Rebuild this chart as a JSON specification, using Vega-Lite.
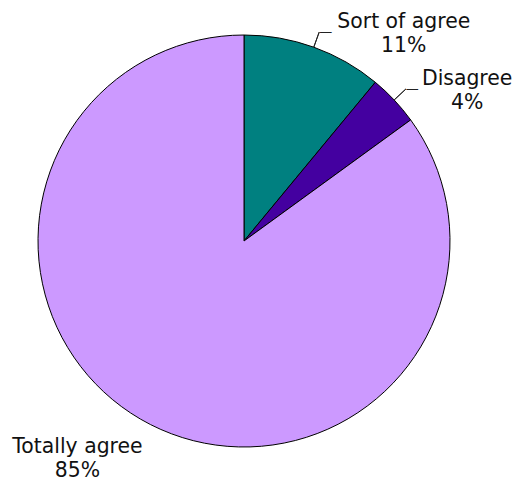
{
  "$schema": "https://vega.github.io/schema/vega-lite/v6.json",
  "width": 488,
  "height": 476,
  "autosize": {"type": "none"},
  "padding": {"left": 0, "top": 3, "right": 27, "bottom": 0},
  "background": "white",
  "config": {"view": {"stroke": null}},
  "data": {
    "values": [
      {"category": "Sort of agree", "value": 11},
      {"category": "Disagree", "value": 4},
      {"category": "Totally agree", "value": 85}
    ]
  },
  "transform": [
    {"stack": "value", "groupby": [], "as": ["v0", "v1"]},
    {"calculate": "(datum.v0 + datum.v1) / 2", "as": "mid"},
    {"calculate": "[datum.category, datum.value + '%']", "as": "label"}
  ],
  "layer": [
    {
      "mark": {"type": "arc", "radius": 206, "stroke": "black", "strokeWidth": 1},
      "encoding": {
        "theta": {"field": "v0", "type": "quantitative", "scale": {"domain": [0, 100]}},
        "theta2": {"field": "v1"},
        "color": {
          "field": "category",
          "type": "nominal",
          "scale": {"domain": ["Sort of agree", "Disagree", "Totally agree"], "range": ["#008080", "#4400A0", "#CC99FF"]},
          "legend": null
        }
      }
    },
    {
      "transform": [{"filter": "datum.category != 'Totally agree'"}],
      "mark": {"type": "arc", "radius": 222, "radius2": 206, "stroke": "#222", "strokeWidth": 1, "fill": "#222"},
      "encoding": {
        "theta": {"field": "mid", "type": "quantitative"},
        "theta2": {"field": "mid"}
      }
    },
    {
      "transform": [{"filter": "datum.category != 'Totally agree'"}],
      "mark": {"type": "text", "text": "—", "radius": 222, "align": "left", "baseline": "middle", "font": "DejaVu Sans", "fontSize": 13, "color": "#222"},
      "encoding": {
        "theta": {"field": "mid", "type": "quantitative"}
      }
    },
    {
      "transform": [{"filter": "datum.category == 'Sort of agree'"}],
      "mark": {"type": "text", "radius": 206, "dx": 90, "dy": -19, "align": "center", "baseline": "alphabetic", "font": "DejaVu Sans", "fontSize": 20.4, "lineHeight": 24, "color": "#111"},
      "encoding": {
        "theta": {"field": "mid", "type": "quantitative"},
        "text": {"field": "label"}
      }
    },
    {
      "transform": [{"filter": "datum.category == 'Disagree'"}],
      "mark": {"type": "text", "radius": 206, "dx": 73, "dy": -15, "align": "center", "baseline": "alphabetic", "font": "DejaVu Sans", "fontSize": 20.4, "lineHeight": 24, "color": "#111"},
      "encoding": {
        "theta": {"field": "mid", "type": "quantitative"},
        "text": {"field": "label"}
      }
    },
    {
      "transform": [{"filter": "datum.category == 'Totally agree'"}],
      "mark": {"type": "text", "radius": 206, "dx": -73, "dy": 28.5, "align": "center", "baseline": "alphabetic", "font": "DejaVu Sans", "fontSize": 20.4, "lineHeight": 24, "color": "#111"},
      "encoding": {
        "theta": {"field": "mid", "type": "quantitative"},
        "text": {"field": "label"}
      }
    }
  ]
}
